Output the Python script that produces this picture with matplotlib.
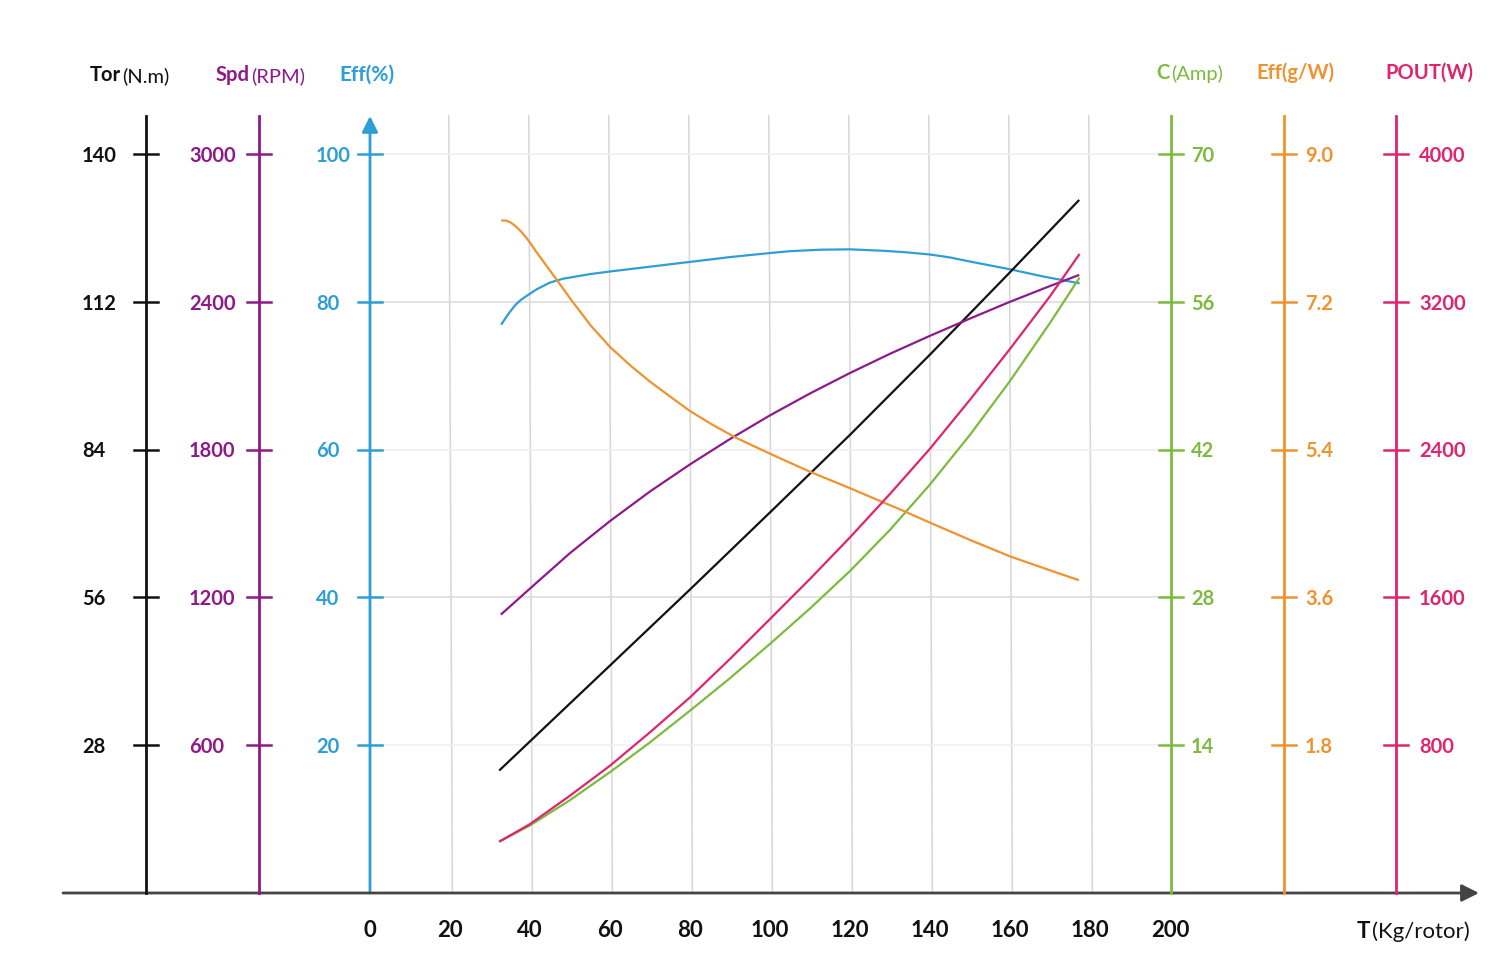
import matplotlib
matplotlib.use('Agg')
import matplotlib.pyplot as plt

# ---------------- data ----------------
tor_thrust = [32.3, 60, 80, 100, 120, 140, 160, 177.3]
torque = [23.2, 43.1, 57.5, 72.1, 86.8, 102.0, 117.6, 131.3]

spd_thrust = [32.7, 40, 50, 60, 70, 80, 90, 100, 110, 120, 130, 140, 150, 160, 170, 177.3]
speed = [1130, 1236, 1380, 1510, 1630, 1740, 1843, 1939, 2028, 2111, 2189, 2262, 2332, 2400, 2464, 2509]

effp_thrust = [32.8, 34.0, 35.2, 36.4, 37.7, 38.9, 40, 41.7, 43.5, 45, 46.8, 48.5, 50.2, 55, 60, 70, 80, 90, 100, 105, 112.7, 120, 128.5, 134, 140, 145, 150, 160, 168.5, 177.4]
eff_pct = [76.9, 77.9, 78.8, 79.6, 80.25, 80.7, 81.1, 81.7, 82.2, 82.6, 82.9, 83.15, 83.3, 83.75, 84.1, 84.75, 85.4, 86.05, 86.6, 86.85, 87.05, 87.1, 86.9, 86.7, 86.4, 86.0, 85.45, 84.4, 83.4, 82.5]

cur_thrust = [32.3, 40, 50, 60, 70, 80, 90, 100, 110, 120, 130, 140, 150, 160, 170, 177.4]
current = [4.85, 6.4, 8.8, 11.45, 14.27, 17.27, 20.35, 23.6, 26.95, 30.5, 34.4, 38.7, 43.4, 48.5, 54.0, 58.3]

gw_thrust = [32.8, 34.0, 35.2, 36.4, 37.7, 38.9, 40, 41.7, 43.5, 46.8, 50.2, 55.2, 60, 65.2, 70.2, 75.2, 80, 85, 91.25, 100, 105, 110, 120, 127.7, 133.1, 140, 150, 160, 170, 177.2]
eff_gw = [8.19, 8.19, 8.165, 8.12, 8.06, 7.99, 7.92, 7.80, 7.68, 7.46, 7.23, 6.91, 6.65, 6.42, 6.22, 6.04, 5.87, 5.72, 5.55, 5.35, 5.24, 5.13, 4.93, 4.77, 4.66, 4.51, 4.30, 4.10, 3.93, 3.81]

pout_thrust = [32.3, 40, 50, 60, 70, 80, 90, 100, 110, 120, 130, 140, 150, 160, 170, 177.4]
pout = [278, 373, 527, 689, 870, 1059, 1267, 1483, 1700, 1925, 2160, 2405, 2670, 2945, 3230, 3459]

x_ticks = [0, 20, 40, 60, 80, 100, 120, 140, 160, 180, 200]
tor_ticks = [28, 56, 84, 112, 140]
spd_ticks = [600, 1200, 1800, 2400, 3000]
effp_ticks = [20, 40, 60, 80, 100]
cur_ticks = [14, 28, 42, 56, 70]
gw_ticks = [1.8, 3.6, 5.4, 7.2, 9.0]
pout_ticks = [800, 1600, 2400, 3200, 4000]

# ---------------- colours ----------------
C_TOR = '#111111'
C_SPD = '#8E1A8A'
C_EFF = '#2E9ED6'
C_CUR = '#7DBA3E'
C_GW = '#F0922E'
C_POUT = '#E0246F'

plt.rcParams['font.family'] = ['Lato', 'DejaVu Sans']

W, H = 1500, 979
fig = plt.figure(figsize=(W / 100, H / 100), dpi=100)
ax = fig.add_axes([0, 0, 1, 1])
X0PX, PXU, Y0PX, PYU = 370.0, 4.0, 894.0, 7.39
def tx(px):
    return (px - X0PX) / PXU
def ty(py):
    return (Y0PX - py) / PYU
ylo, yhi = ty(H), ty(0)
ax.set_xlim(tx(0), tx(W))
ax.set_ylim(ylo, yhi)
ax.axis('off')

def twin(factor):
    t = fig.add_axes([0, 0, 1, 1], sharex=ax)
    t.set_ylim(ylo * factor, yhi * factor)
    t.axis('off')
    t.patch.set_visible(False)
    return t

base = effp_ticks[-1]
ax_tor = twin(tor_ticks[-1] / base)
ax_spd = twin(spd_ticks[-1] / base)
ax_cur = twin(cur_ticks[-1] / base)
ax_gw = twin(gw_ticks[-1] / base)
ax_pout = twin(pout_ticks[-1] / base)

top_eff = ty(117)

# ---------------- grid ----------------
for v in x_ticks[1:-1]:
    ax.plot([v - 0.3, v + 0.6], [top_eff, 0], color='#d6d6d6', lw=1.1, zorder=1)
for v in effp_ticks:
    c = '#dadada' if v in (40, 80) else '#f0f0f0'
    ax.plot([0, 200], [v, v], color=c, lw=1.1, zorder=1)

# ---------------- curves ----------------
lw = 1.6
kw = dict(lw=lw, zorder=5, solid_joinstyle='round', solid_capstyle='butt')
ax_tor.plot(tor_thrust, torque, color=C_TOR, **kw)
ax_spd.plot(spd_thrust, speed, color=C_SPD, **kw)
ax.plot(effp_thrust, eff_pct, color=C_EFF, **kw)
ax_cur.plot(cur_thrust, current, color=C_CUR, **kw)
ax_gw.plot(gw_thrust, eff_gw, color=C_GW, **kw)
ax_pout.plot(pout_thrust, pout, color=C_POUT, **kw)

# ---------------- vertical scales ----------------
def scale(a, ticks, xpx, color, label_px, fmt, arrow=False):
    f = ticks[-1] / base
    x = tx(xpx)
    if arrow:
        a.annotate('', xy=(x, top_eff * f), xytext=(x, 0),
                   arrowprops=dict(arrowstyle='-|>', color=color, lw=2.0,
                                   mutation_scale=24, shrinkA=0, shrinkB=0))
    else:
        a.plot([x, x], [0, top_eff * f], color=color, lw=2.0, zorder=6)
    for v in ticks:
        a.plot([x - 3.0, x + 3.0], [v, v], color=color, lw=1.8, zorder=6)
        a.text(tx(label_px), v - 0.1 * f, fmt(v), color=color, fontsize=14.5,
               fontweight='bold', ha='left', va='center')

fi = lambda v: f"{v:d}"
scale(ax_tor, tor_ticks, 146, C_TOR, 82, fi)
scale(ax_spd, spd_ticks, 259, C_SPD, 189, fi)
scale(ax, effp_ticks, 370, C_EFF, 316, fi, arrow=True)
scale(ax_cur, cur_ticks, 1171, C_CUR, 1191, fi)
scale(ax_gw, gw_ticks, 1284, C_GW, 1305, lambda v: f"{v:.1f}")
scale(ax_pout, pout_ticks, 1396, C_POUT, 1419, fi)

# ---------------- x axis ----------------
ax.annotate('', xy=(tx(1479), 0), xytext=(tx(63), 0),
            arrowprops=dict(arrowstyle='-|>', color='#444444', lw=2.0,
                            mutation_scale=26, shrinkA=0, shrinkB=0), zorder=7)
for v in x_ticks:
    ax.text(v, ty(931), f"{v}", ha='center', va='center', fontsize=16,
            fontweight='bold', color='#111111')

# ---------------- titles ----------------
def title(xpx, ypx, bold, normal, color, size=14.5):
    t1 = ax.text(tx(xpx), ty(ypx), bold, color=color, fontsize=size,
                 fontweight='bold', ha='left', va='baseline')
    if normal:
        ax.annotate(normal, xy=(1, 0), xycoords=t1, xytext=(1, 0),
                    textcoords='offset points', color=color, fontsize=size,
                    fontweight='normal', ha='left', va='bottom')

title(90, 81, 'Tor', '(N.m)', C_TOR)
title(216, 81, 'Spd', '(RPM)', C_SPD)
title(339, 81, 'Eff(%)', '', C_EFF, size=15)
title(1156, 79, 'C', '(Amp)', C_CUR)
title(1256, 79, 'Eff(g/W)', '', C_GW)
title(1385, 79, 'POUT(W)', '', C_POUT)
title(1357, 938, 'T', '(Kg/rotor)', '#111111', size=16)

fig.savefig('out.png', dpi=100)
